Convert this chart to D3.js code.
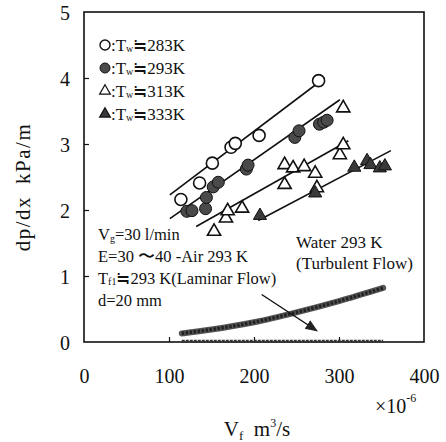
<!DOCTYPE html>
<html>
<head>
<meta charset="utf-8">
<script src="https://cdn.jsdelivr.net/npm/d3@7"></script>
<style>
  body { margin: 0; background: #fff; }
  text { fill: #111; }
</style>
</head>
<body>
<div id="chart"></div>
<script>
// values (x in 1e-6 m3/s, y in kPa/m)
const xTicks = [0, 100, 200, 300, 400]
const yTicks = [0, 1, 2, 3, 4, 5]

const open283 = [[114, 2.16], [136, 2.41], [151, 2.71], [173, 2.95], [178, 3.01], [206, 3.13], [276, 3.96]]
const fill293 = [[121, 1.98], [127, 1.99], [143, 2.02], [144, 2.19], [152, 2.35], [158, 2.42], [191, 2.62],
  [193, 2.68], [248, 3.10], [253, 3.20], [277, 3.30], [282, 3.33], [286, 3.36]]
const open313 = [[153, 1.69], [167, 1.89], [169, 2.0], [186, 2.04], [236, 2.40], [236, 2.70], [246, 2.65],
  [259, 2.67], [272, 2.57], [274, 2.35], [301, 2.85], [305, 3.0], [305, 3.56]]
const fill333 = [[207, 1.93], [272, 2.27], [318, 2.66], [333, 2.76], [337, 2.70], [348, 2.65], [354, 2.68]]

const fit283 = [[101, 2.23], [283, 4.00]]
const fit293 = [[101, 1.87], [301, 3.67]]
const fit313 = [[132, 1.75], [311, 3.05]]
const fit333 = [[205, 1.84], [361, 2.90]]

const water = [[115, 0.13], [150, 0.19], [200, 0.30], [250, 0.45], [300, 0.62], [352, 0.82]]
const air = [[115, 0.01], [352, 0.01]]

const legendTemps = ['283K', '293K', '313K', '333K']

const width = 446
const height = 442
const serif = 'Liberation Serif'

const x = d3.scaleLinear().domain([0, 400]).range([84, 424])
const y = d3.scaleLinear().domain([0, 5]).range([342, 12])

const svg = d3.select('#chart').append('svg')
  .attr('width', width)
  .attr('height', height)

// axes with inward ticks
const yAxis = svg.append('g')
  .attr('transform', `translate(${x(0)},0)`)
  .call(d3.axisLeft(y).tickValues(yTicks).tickFormat(d3.format('d'))
    .tickSizeInner(-5).tickSizeOuter(0).tickPadding(14))
yAxis.select('.domain').remove()
yAxis.selectAll('text').style('font-size', '20px').attr('dy', '0.35em')

const xAxis = svg.append('g')
  .attr('transform', `translate(0,${y(0)})`)
  .call(d3.axisBottom(x).tickValues(xTicks).tickFormat(d3.format('d'))
    .tickSizeInner(-5).tickSizeOuter(0).tickPadding(27))
xAxis.select('.domain').remove()
xAxis.selectAll('text').style('font-size', '20px')
svg.selectAll('.tick line').attr('stroke', '#111').attr('stroke-width', 1.2)
svg.selectAll('.tick').filter(d => d === 0 || d === 5 || d === 400).select('line').remove()

// frame
svg.append('rect')
  .attr('x', x(0)).attr('y', y(5))
  .attr('width', x(400) - x(0)).attr('height', y(0) - y(5))
  .attr('fill', 'none').attr('stroke', '#111').attr('stroke-width', 1.6)

// axis titles
svg.append('text')
  .attr('transform', `translate(30,${(y(0) + y(5)) / 2 + 10}) rotate(-90)`)
  .attr('text-anchor', 'middle')
  .style('font-size', '21px')
  .style('letter-spacing', '1.5px')
  .text('dp/dx\u2002kPa/m')

const xl = svg.append('text')
  .attr('x', 257).attr('y', 436)
  .attr('text-anchor', 'middle')
  .style('font-size', '21px')
xl.append('tspan').text('V')
xl.append('tspan').attr('dy', 4).style('font-size', '13px').text('f')
xl.append('tspan').attr('dy', -4).text('\u2002m')
xl.append('tspan').attr('dy', -9).style('font-size', '12px').text('3')
xl.append('tspan').attr('dy', 9).text('/s')

const mult = svg.append('text')
  .attr('x', 375).attr('y', 413)
  .style('font-size', '20px')
mult.append('tspan').text('×10')
mult.append('tspan').attr('dy', -11).style('font-size', '12px').text('-6')

// fit lines
const line = d3.line().x(d => x(d[0])).y(d => y(d[1]))
;[fit283, fit293, fit313, fit333].forEach(f => {
  svg.append('path').attr('d', line(f)).attr('fill', 'none')
    .attr('stroke', '#111').attr('stroke-width', 1.6)
})

// water (turbulent) and air (laminar) curves, beaded look
const curve = d3.line().x(d => x(d[0])).y(d => y(d[1])).curve(d3.curveMonotoneX)
svg.append('path').attr('d', curve(water)).attr('fill', 'none')
  .attr('stroke', '#555').attr('stroke-width', 6).attr('stroke-linecap', 'round')
svg.append('path').attr('d', curve(water)).attr('fill', 'none')
  .attr('stroke', '#222').attr('stroke-width', 3.5).attr('stroke-dasharray', '2.5 1.5')
svg.append('path').attr('d', line(air)).attr('fill', 'none')
  .attr('stroke', '#333').attr('stroke-width', 3).attr('stroke-dasharray', '3 1')

// markers
const tri = d3.symbol().type(d3.symbolTriangle).size(75)
function drawCircles(data, filled) {
  svg.append('g').selectAll('circle').data(data).join('circle')
    .attr('cx', d => x(d[0])).attr('cy', d => y(d[1])).attr('r', 6)
    .attr('fill', filled ? '#4a4a4a' : '#fff')
    .attr('stroke', '#111').attr('stroke-width', filled ? 1 : 1.6)
}
function drawTriangles(data, filled) {
  svg.append('g').selectAll('path').data(data).join('path')
    .attr('d', tri)
    .attr('transform', d => `translate(${x(d[0])},${y(d[1]) + 1})`)
    .attr('fill', filled ? '#3a3a3a' : '#fff')
    .attr('stroke', '#111').attr('stroke-width', filled ? 1 : 1.6)
}
drawCircles(open283, false)
drawCircles(fill293, true)
drawTriangles(open313, false)
drawTriangles(fill333, true)

// legend
const legendY = [45, 68, 91, 114]
legendTemps.forEach((t, i) => {
  const ly = legendY[i]
  if (i === 0) svg.append('circle').attr('cx', 105).attr('cy', ly).attr('r', 5).attr('fill', '#fff').attr('stroke', '#111').attr('stroke-width', 1.4)
  if (i === 1) svg.append('circle').attr('cx', 105).attr('cy', ly).attr('r', 5).attr('fill', '#4a4a4a').attr('stroke', '#111')
  if (i >= 2) svg.append('path').attr('d', d3.symbol().type(d3.symbolTriangle).size(50))
    .attr('transform', `translate(105,${ly})`)
    .attr('fill', i === 3 ? '#3a3a3a' : '#fff').attr('stroke', '#111').attr('stroke-width', 1.2)
  const lt = svg.append('text').attr('x', 111).attr('y', ly + 6).style('font-size', '17px')
  lt.append('tspan').text(':T')
  lt.append('tspan').attr('dy', 1).style('font-size', '10px').text('w')
  lt.append('tspan').attr('dy', -1).text('≒' + t)
})

// conditions text
const notes = svg.append('g').style('font-size', '16.5px')
const n1 = notes.append('text').attr('x', 98).attr('y', 240)
n1.append('tspan').text('V')
n1.append('tspan').attr('dy', 2).style('font-size', '10px').text('g')
n1.append('tspan').attr('dy', -2).text('=30 l/min')
notes.append('text').attr('x', 98).attr('y', 262).text('E=30 〜40 -Air 293 K')
const n3 = notes.append('text').attr('x', 98).attr('y', 284)
n3.append('tspan').text('T')
n3.append('tspan').attr('dy', 1).style('font-size', '10px').text('f1')
n3.append('tspan').attr('dy', -1).text('≒293 K(Laminar Flow)')
notes.append('text').attr('x', 98).attr('y', 306).text('d=20 mm')

notes.append('text').attr('x', 296).attr('y', 248).style('font-size', '17px').text('Water 293 K')
notes.append('text').attr('x', 296).attr('y', 269).style('font-size', '17px').text('(Turbulent Flow)')

// arrow towards laminar air curve
svg.append('defs').append('marker')
  .attr('id', 'arr').attr('viewBox', '0 0 10 10').attr('refX', 9).attr('refY', 5)
  .attr('markerWidth', 9).attr('markerHeight', 9).attr('orient', 'auto-start-reverse')
  .append('path').attr('d', 'M0,1 L10,5 L0,9 z').attr('fill', '#222')
svg.append('line')
  .attr('x1', x(209)).attr('y1', y(0.72))
  .attr('x2', x(274)).attr('y2', y(0.17))
  .attr('stroke', '#111').attr('stroke-width', 1.4)
  .attr('marker-end', 'url(#arr)')

// one serif face for every label
svg.selectAll('text').style('font-family', serif)
</script>
</body>
</html>
